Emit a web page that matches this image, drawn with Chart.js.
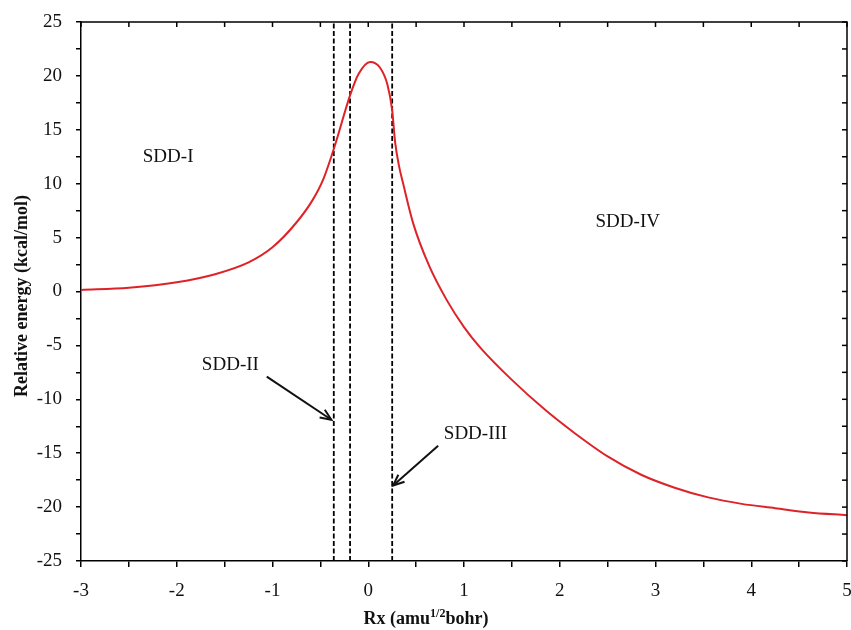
<!DOCTYPE html>
<html>
<head>
<meta charset="utf-8">
<script src="https://cdn.jsdelivr.net/npm/chart.js@4.4.0/dist/chart.umd.min.js"></script>
<style>
  html, body { margin: 0; padding: 0; background: #fff; }
  #wrap { width: 851px; height: 630px; }
</style>
</head>
<body>
<div id="wrap"><canvas id="energy-chart"></canvas></div>
<script>
// reaction coordinate vs relative energy
const rx = [-3, -2.5, -2, -1.6, -1.25, -1, -0.75, -0.58, -0.47, -0.35, -0.19, -0.1, 0.02, 0.12, 0.2, 0.25, 0.28, 0.32, 0.37, 0.47, 0.64, 0.82, 1.0, 1.17, 1.5, 1.85, 2.15, 2.5, 2.85, 3.2, 3.55, 3.9, 4.25, 4.6, 5.0];
const energy = [0.15, 0.35, 0.85, 1.6, 2.7, 4.1, 6.4, 8.5, 10.4, 13.5, 18.2, 20.2, 21.3, 20.8, 19.2, 16.8, 13.9, 11.7, 9.8, 6.3, 2.3, -0.8, -3.3, -5.2, -8.2, -11.0, -13.1, -15.3, -17.0, -18.2, -19.1, -19.7, -20.1, -20.5, -20.75];

// region boundaries (dashed lines)
const dashX = [-0.36, -0.19, 0.25];

// region labels
const labelText = ['SDD-I', 'SDD-II', 'SDD-III', 'SDD-IV'];
const labelX = [-2.09, -1.44, 1.12, 2.71];
const labelY = [12.5, -6.85, -13.25, 6.4];

// arrows (from -> to)
const arrowFromX = [-1.06, 0.73];
const arrowFromY = [-7.9, -14.3];
const arrowToX = [-0.385, 0.26];
const arrowToY = [-11.9, -18.0];

const xTitle = ['Rx (amu', '1/2', 'bohr)'];
const yTitle = 'Relative energy (kcal/mol)';

const serif = '"Liberation Serif", "DejaVu Serif", serif';

const curve = rx.map((v, i) => ({ x: v, y: energy[i] }));
const dashSets = dashX.map(v => ({
  data: [{ x: v, y: -25 }, { x: v, y: 25 }],
  borderColor: '#000',
  borderWidth: 1.8,
  borderDash: [5, 2.5],
  pointRadius: 0,
  showLine: true,
  fill: false
}));

const extras = {
  id: 'extras',
  afterDraw(chart) {
    const c = chart.ctx;
    const xs = chart.scales.x, ys = chart.scales.y;
    const a = chart.chartArea;
    c.save();
    // frame top/right
    c.strokeStyle = '#000';
    c.lineWidth = 1.5;
    c.beginPath();
    c.moveTo(a.left, a.top); c.lineTo(a.right, a.top); c.lineTo(a.right, a.bottom);
    c.stroke();
    // mirrored inward ticks
    for (let v = -3; v <= 5.001; v += 0.5) {
      const px = xs.getPixelForValue(v);
      c.beginPath(); c.moveTo(px, a.top); c.lineTo(px, a.top + 5); c.stroke();
    }
    for (let v = -25; v <= 25.001; v += 2.5) {
      const py = ys.getPixelForValue(v);
      c.beginPath(); c.moveTo(a.right, py); c.lineTo(a.right - 5, py); c.stroke();
    }
    // region labels
    c.fillStyle = '#111';
    c.font = '19px ' + serif;
    c.textAlign = 'center';
    c.textBaseline = 'middle';
    labelText.forEach((t, i) => {
      c.fillText(t, xs.getPixelForValue(labelX[i]), ys.getPixelForValue(labelY[i]));
    });
    // arrows
    c.lineWidth = 2;
    c.strokeStyle = '#111';
    arrowFromX.forEach((v, i) => {
      const x1 = xs.getPixelForValue(v), y1 = ys.getPixelForValue(arrowFromY[i]);
      const x2 = xs.getPixelForValue(arrowToX[i]), y2 = ys.getPixelForValue(arrowToY[i]);
      const ang = Math.atan2(y2 - y1, x2 - x1);
      c.beginPath(); c.moveTo(x1, y1); c.lineTo(x2, y2); c.stroke();
      c.beginPath();
      c.moveTo(x2 - 12 * Math.cos(ang - 0.4), y2 - 12 * Math.sin(ang - 0.4));
      c.lineTo(x2, y2);
      c.lineTo(x2 - 12 * Math.cos(ang + 0.4), y2 - 12 * Math.sin(ang + 0.4));
      c.stroke();
    });
    // x title with superscript
    c.fillStyle = '#111';
    c.textAlign = 'left';
    c.textBaseline = 'alphabetic';
    c.font = 'bold 18px ' + serif;
    const w0 = c.measureText(xTitle[0]).width;
    const w2 = c.measureText(xTitle[2]).width;
    c.font = 'bold 12px ' + serif;
    const w1 = c.measureText(xTitle[1]).width;
    let tx = 426 - (w0 + w1 + w2) / 2;
    const ty = 624;
    c.font = 'bold 18px ' + serif;
    c.fillText(xTitle[0], tx, ty);
    c.font = 'bold 12px ' + serif;
    c.fillText(xTitle[1], tx + w0, ty - 7);
    c.font = 'bold 18px ' + serif;
    c.fillText(xTitle[2], tx + w0 + w1, ty);
    // y title
    c.translate(22, 296);
    c.rotate(-Math.PI / 2);
    c.textAlign = 'center';
    c.textBaseline = 'middle';
    c.fillText(yTitle, 0, 0);
    c.restore();
  }
};

new Chart(document.getElementById('energy-chart'), {
  type: 'scatter',
  data: {
    datasets: [{
      data: curve,
      borderColor: 'rgb(222, 35, 40)',
      borderWidth: 2,
      pointRadius: 0,
      showLine: true,
      cubicInterpolationMode: 'monotone',
      fill: false
    }, ...dashSets]
  },
  options: {
    responsive: true,
    maintainAspectRatio: false,
    animation: false,
    layout: { padding: { top: 22, right: 4, left: 0, bottom: 0 } },
    plugins: { legend: { display: false }, tooltip: { enabled: false } },
    scales: {
      x: {
        type: 'linear',
        min: -3, max: 5,
        afterFit: (s) => { s.height = 69; s.paddingLeft = 0; s.paddingRight = 0; },
        afterBuildTicks: (s) => {
          const t = [];
          for (let v = -3; v <= 5.001; v += 0.5) t.push({ value: v });
          s.ticks = t;
        },
        border: { color: '#000', width: 1.5 },
        grid: { drawOnChartArea: false, drawTicks: true, tickLength: 6, color: '#000', lineWidth: 1.5 },
        ticks: {
          autoSkip: false, maxRotation: 0, padding: 13,
          color: '#111',
          font: { family: serif, size: 19 },
          callback: (v) => Number.isInteger(v) ? String(v) : ''
        }
      },
      y: {
        min: -25, max: 25,
        afterFit: (s) => { s.width = 81; s.paddingTop = 0; s.paddingBottom = 0; },
        afterBuildTicks: (s) => {
          const t = [];
          for (let v = -25; v <= 25.001; v += 2.5) t.push({ value: v });
          s.ticks = t;
        },
        border: { color: '#000', width: 1.5 },
        grid: { drawOnChartArea: false, drawTicks: true, tickLength: 5, color: '#000', lineWidth: 1.5 },
        ticks: {
          autoSkip: false, padding: 14,
          color: '#111',
          font: { family: serif, size: 19 },
          callback: (v) => v % 5 === 0 ? String(v) : ''
        }
      }
    }
  },
  plugins: [extras]
});
</script>
</body>
</html>
